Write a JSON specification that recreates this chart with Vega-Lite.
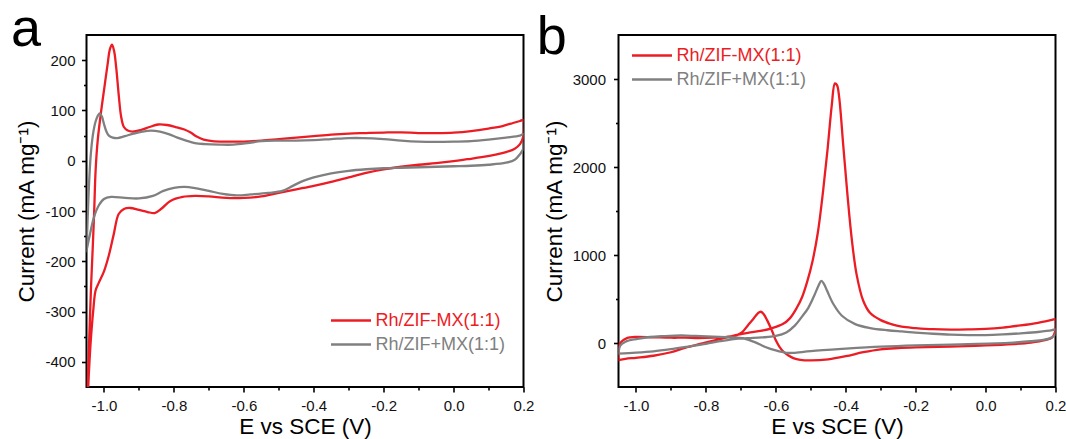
{
  "$schema": "https://vega.github.io/schema/vega-lite/v6.json",
  "autosize": {"type": "pad"},
  "padding": {"left": 9.5, "top": 2, "right": 5, "bottom": 0},
  "background": "white",
  "spacing": 95,
  "bounds": "flush",
  "resolve": {"legend": {"color": "independent"}},
  "config": {
    "font": "Liberation Sans",
    "view": {"stroke": "#000", "strokeWidth": 2},
    "axis": {
      "domain": false, "grid": false,
      "tickColor": "#000", "tickWidth": 1.6,
      "labelFont": "Liberation Sans", "labelFontSize": 15, "labelColor": "#111",
      "titleFont": "Liberation Sans", "titleFontSize": 22.5, "titleFontWeight": "normal", "titleColor": "#000"
    },
    "title": {"font": "Liberation Sans", "fontSize": 54, "fontWeight": "normal", "anchor": "start", "frame": "bounds", "baseline": "alphabetic", "color": "#000"},
    "legend": {"labelFont": "Liberation Sans", "labelFontSize": 18}
  },
  "hconcat": [
    {
      "width": 437, "height": 352,
      "title": {"text": "a", "dx": -5, "offset": -22},
      "data": {"values": [
        {"series":"Rh/ZIF-MX(1:1)","idx":1,"E":-1.047,"I":-450},
        {"series":"Rh/ZIF-MX(1:1)","idx":2,"E":-1.042,"I":-350},
        {"series":"Rh/ZIF-MX(1:1)","idx":3,"E":-1.037,"I":-250},
        {"series":"Rh/ZIF-MX(1:1)","idx":4,"E":-1.032,"I":-170},
        {"series":"Rh/ZIF-MX(1:1)","idx":5,"E":-1.028,"I":-100},
        {"series":"Rh/ZIF-MX(1:1)","idx":6,"E":-1.024,"I":-20},
        {"series":"Rh/ZIF-MX(1:1)","idx":7,"E":-1.018,"I":40},
        {"series":"Rh/ZIF-MX(1:1)","idx":8,"E":-1.008,"I":99},
        {"series":"Rh/ZIF-MX(1:1)","idx":9,"E":-0.999,"I":145},
        {"series":"Rh/ZIF-MX(1:1)","idx":10,"E":-0.99,"I":190},
        {"series":"Rh/ZIF-MX(1:1)","idx":11,"E":-0.983,"I":222},
        {"series":"Rh/ZIF-MX(1:1)","idx":12,"E":-0.977,"I":231},
        {"series":"Rh/ZIF-MX(1:1)","idx":13,"E":-0.971,"I":218},
        {"series":"Rh/ZIF-MX(1:1)","idx":14,"E":-0.965,"I":185},
        {"series":"Rh/ZIF-MX(1:1)","idx":15,"E":-0.958,"I":132},
        {"series":"Rh/ZIF-MX(1:1)","idx":16,"E":-0.951,"I":88},
        {"series":"Rh/ZIF-MX(1:1)","idx":17,"E":-0.943,"I":67},
        {"series":"Rh/ZIF-MX(1:1)","idx":18,"E":-0.932,"I":60},
        {"series":"Rh/ZIF-MX(1:1)","idx":19,"E":-0.918,"I":58},
        {"series":"Rh/ZIF-MX(1:1)","idx":20,"E":-0.895,"I":61},
        {"series":"Rh/ZIF-MX(1:1)","idx":21,"E":-0.87,"I":67},
        {"series":"Rh/ZIF-MX(1:1)","idx":22,"E":-0.845,"I":72},
        {"series":"Rh/ZIF-MX(1:1)","idx":23,"E":-0.82,"I":71},
        {"series":"Rh/ZIF-MX(1:1)","idx":24,"E":-0.795,"I":67},
        {"series":"Rh/ZIF-MX(1:1)","idx":25,"E":-0.77,"I":62},
        {"series":"Rh/ZIF-MX(1:1)","idx":26,"E":-0.752,"I":56},
        {"series":"Rh/ZIF-MX(1:1)","idx":27,"E":-0.735,"I":48},
        {"series":"Rh/ZIF-MX(1:1)","idx":28,"E":-0.715,"I":42},
        {"series":"Rh/ZIF-MX(1:1)","idx":29,"E":-0.69,"I":39},
        {"series":"Rh/ZIF-MX(1:1)","idx":30,"E":-0.65,"I":38},
        {"series":"Rh/ZIF-MX(1:1)","idx":31,"E":-0.6,"I":38},
        {"series":"Rh/ZIF-MX(1:1)","idx":32,"E":-0.55,"I":40},
        {"series":"Rh/ZIF-MX(1:1)","idx":33,"E":-0.5,"I":43},
        {"series":"Rh/ZIF-MX(1:1)","idx":34,"E":-0.45,"I":46},
        {"series":"Rh/ZIF-MX(1:1)","idx":35,"E":-0.4,"I":49},
        {"series":"Rh/ZIF-MX(1:1)","idx":36,"E":-0.35,"I":52},
        {"series":"Rh/ZIF-MX(1:1)","idx":37,"E":-0.3,"I":54},
        {"series":"Rh/ZIF-MX(1:1)","idx":38,"E":-0.25,"I":55},
        {"series":"Rh/ZIF-MX(1:1)","idx":39,"E":-0.2,"I":56},
        {"series":"Rh/ZIF-MX(1:1)","idx":40,"E":-0.15,"I":56.5},
        {"series":"Rh/ZIF-MX(1:1)","idx":41,"E":-0.1,"I":55},
        {"series":"Rh/ZIF-MX(1:1)","idx":42,"E":-0.05,"I":55},
        {"series":"Rh/ZIF-MX(1:1)","idx":43,"E":0.0,"I":56},
        {"series":"Rh/ZIF-MX(1:1)","idx":44,"E":0.05,"I":59},
        {"series":"Rh/ZIF-MX(1:1)","idx":45,"E":0.1,"I":64},
        {"series":"Rh/ZIF-MX(1:1)","idx":46,"E":0.14,"I":69},
        {"series":"Rh/ZIF-MX(1:1)","idx":47,"E":0.17,"I":75},
        {"series":"Rh/ZIF-MX(1:1)","idx":48,"E":0.19,"I":79},
        {"series":"Rh/ZIF-MX(1:1)","idx":49,"E":0.2,"I":81},
        {"series":"Rh/ZIF-MX(1:1)","idx":50,"E":0.2,"I":50},
        {"series":"Rh/ZIF-MX(1:1)","idx":51,"E":0.19,"I":33},
        {"series":"Rh/ZIF-MX(1:1)","idx":52,"E":0.175,"I":24},
        {"series":"Rh/ZIF-MX(1:1)","idx":53,"E":0.15,"I":17},
        {"series":"Rh/ZIF-MX(1:1)","idx":54,"E":0.12,"I":12},
        {"series":"Rh/ZIF-MX(1:1)","idx":55,"E":0.08,"I":7},
        {"series":"Rh/ZIF-MX(1:1)","idx":56,"E":0.04,"I":3},
        {"series":"Rh/ZIF-MX(1:1)","idx":57,"E":0.0,"I":-1},
        {"series":"Rh/ZIF-MX(1:1)","idx":58,"E":-0.05,"I":-5},
        {"series":"Rh/ZIF-MX(1:1)","idx":59,"E":-0.1,"I":-8},
        {"series":"Rh/ZIF-MX(1:1)","idx":60,"E":-0.15,"I":-12},
        {"series":"Rh/ZIF-MX(1:1)","idx":61,"E":-0.2,"I":-17},
        {"series":"Rh/ZIF-MX(1:1)","idx":62,"E":-0.25,"I":-24},
        {"series":"Rh/ZIF-MX(1:1)","idx":63,"E":-0.3,"I":-33},
        {"series":"Rh/ZIF-MX(1:1)","idx":64,"E":-0.35,"I":-42},
        {"series":"Rh/ZIF-MX(1:1)","idx":65,"E":-0.4,"I":-50},
        {"series":"Rh/ZIF-MX(1:1)","idx":66,"E":-0.45,"I":-57},
        {"series":"Rh/ZIF-MX(1:1)","idx":67,"E":-0.5,"I":-64},
        {"series":"Rh/ZIF-MX(1:1)","idx":68,"E":-0.55,"I":-71},
        {"series":"Rh/ZIF-MX(1:1)","idx":69,"E":-0.6,"I":-74},
        {"series":"Rh/ZIF-MX(1:1)","idx":70,"E":-0.65,"I":-74},
        {"series":"Rh/ZIF-MX(1:1)","idx":71,"E":-0.7,"I":-71},
        {"series":"Rh/ZIF-MX(1:1)","idx":72,"E":-0.74,"I":-70},
        {"series":"Rh/ZIF-MX(1:1)","idx":73,"E":-0.775,"I":-72},
        {"series":"Rh/ZIF-MX(1:1)","idx":74,"E":-0.81,"I":-80},
        {"series":"Rh/ZIF-MX(1:1)","idx":75,"E":-0.835,"I":-95},
        {"series":"Rh/ZIF-MX(1:1)","idx":76,"E":-0.855,"I":-104},
        {"series":"Rh/ZIF-MX(1:1)","idx":77,"E":-0.875,"I":-102},
        {"series":"Rh/ZIF-MX(1:1)","idx":78,"E":-0.9,"I":-98},
        {"series":"Rh/ZIF-MX(1:1)","idx":79,"E":-0.925,"I":-94},
        {"series":"Rh/ZIF-MX(1:1)","idx":80,"E":-0.943,"I":-96},
        {"series":"Rh/ZIF-MX(1:1)","idx":81,"E":-0.958,"I":-106},
        {"series":"Rh/ZIF-MX(1:1)","idx":82,"E":-0.972,"I":-146},
        {"series":"Rh/ZIF-MX(1:1)","idx":83,"E":-0.986,"I":-188},
        {"series":"Rh/ZIF-MX(1:1)","idx":84,"E":-1.0,"I":-220},
        {"series":"Rh/ZIF-MX(1:1)","idx":85,"E":-1.015,"I":-243},
        {"series":"Rh/ZIF-MX(1:1)","idx":86,"E":-1.024,"I":-258},
        {"series":"Rh/ZIF-MX(1:1)","idx":87,"E":-1.031,"I":-300},
        {"series":"Rh/ZIF-MX(1:1)","idx":88,"E":-1.038,"I":-360},
        {"series":"Rh/ZIF-MX(1:1)","idx":89,"E":-1.043,"I":-420},
        {"series":"Rh/ZIF-MX(1:1)","idx":90,"E":-1.045,"I":-450},
        {"series":"Rh/ZIF+MX(1:1)","idx":1,"E":-1.05,"I":-180},
        {"series":"Rh/ZIF+MX(1:1)","idx":2,"E":-1.047,"I":-120},
        {"series":"Rh/ZIF+MX(1:1)","idx":3,"E":-1.043,"I":-50},
        {"series":"Rh/ZIF+MX(1:1)","idx":4,"E":-1.038,"I":10},
        {"series":"Rh/ZIF+MX(1:1)","idx":5,"E":-1.032,"I":50},
        {"series":"Rh/ZIF+MX(1:1)","idx":6,"E":-1.024,"I":78},
        {"series":"Rh/ZIF+MX(1:1)","idx":7,"E":-1.017,"I":90},
        {"series":"Rh/ZIF+MX(1:1)","idx":8,"E":-1.012,"I":94},
        {"series":"Rh/ZIF+MX(1:1)","idx":9,"E":-1.006,"I":88},
        {"series":"Rh/ZIF+MX(1:1)","idx":10,"E":-1.0,"I":73},
        {"series":"Rh/ZIF+MX(1:1)","idx":11,"E":-0.993,"I":58},
        {"series":"Rh/ZIF+MX(1:1)","idx":12,"E":-0.986,"I":50},
        {"series":"Rh/ZIF+MX(1:1)","idx":13,"E":-0.975,"I":46},
        {"series":"Rh/ZIF+MX(1:1)","idx":14,"E":-0.962,"I":45},
        {"series":"Rh/ZIF+MX(1:1)","idx":15,"E":-0.94,"I":49},
        {"series":"Rh/ZIF+MX(1:1)","idx":16,"E":-0.915,"I":54},
        {"series":"Rh/ZIF+MX(1:1)","idx":17,"E":-0.89,"I":58},
        {"series":"Rh/ZIF+MX(1:1)","idx":18,"E":-0.865,"I":60},
        {"series":"Rh/ZIF+MX(1:1)","idx":19,"E":-0.84,"I":58},
        {"series":"Rh/ZIF+MX(1:1)","idx":20,"E":-0.815,"I":53},
        {"series":"Rh/ZIF+MX(1:1)","idx":21,"E":-0.79,"I":46},
        {"series":"Rh/ZIF+MX(1:1)","idx":22,"E":-0.765,"I":40},
        {"series":"Rh/ZIF+MX(1:1)","idx":23,"E":-0.74,"I":35},
        {"series":"Rh/ZIF+MX(1:1)","idx":24,"E":-0.71,"I":33},
        {"series":"Rh/ZIF+MX(1:1)","idx":25,"E":-0.67,"I":32},
        {"series":"Rh/ZIF+MX(1:1)","idx":26,"E":-0.63,"I":32},
        {"series":"Rh/ZIF+MX(1:1)","idx":27,"E":-0.59,"I":35},
        {"series":"Rh/ZIF+MX(1:1)","idx":28,"E":-0.55,"I":39},
        {"series":"Rh/ZIF+MX(1:1)","idx":29,"E":-0.5,"I":40},
        {"series":"Rh/ZIF+MX(1:1)","idx":30,"E":-0.45,"I":40},
        {"series":"Rh/ZIF+MX(1:1)","idx":31,"E":-0.4,"I":41},
        {"series":"Rh/ZIF+MX(1:1)","idx":32,"E":-0.35,"I":43},
        {"series":"Rh/ZIF+MX(1:1)","idx":33,"E":-0.3,"I":45},
        {"series":"Rh/ZIF+MX(1:1)","idx":34,"E":-0.26,"I":45},
        {"series":"Rh/ZIF+MX(1:1)","idx":35,"E":-0.2,"I":43},
        {"series":"Rh/ZIF+MX(1:1)","idx":36,"E":-0.15,"I":40},
        {"series":"Rh/ZIF+MX(1:1)","idx":37,"E":-0.1,"I":38},
        {"series":"Rh/ZIF+MX(1:1)","idx":38,"E":-0.05,"I":37.5},
        {"series":"Rh/ZIF+MX(1:1)","idx":39,"E":0.0,"I":38},
        {"series":"Rh/ZIF+MX(1:1)","idx":40,"E":0.05,"I":39},
        {"series":"Rh/ZIF+MX(1:1)","idx":41,"E":0.1,"I":42},
        {"series":"Rh/ZIF+MX(1:1)","idx":42,"E":0.15,"I":46},
        {"series":"Rh/ZIF+MX(1:1)","idx":43,"E":0.19,"I":50},
        {"series":"Rh/ZIF+MX(1:1)","idx":44,"E":0.2,"I":53},
        {"series":"Rh/ZIF+MX(1:1)","idx":45,"E":0.2,"I":25},
        {"series":"Rh/ZIF+MX(1:1)","idx":46,"E":0.19,"I":13},
        {"series":"Rh/ZIF+MX(1:1)","idx":47,"E":0.175,"I":2},
        {"series":"Rh/ZIF+MX(1:1)","idx":48,"E":0.15,"I":-4},
        {"series":"Rh/ZIF+MX(1:1)","idx":49,"E":0.1,"I":-8},
        {"series":"Rh/ZIF+MX(1:1)","idx":50,"E":0.05,"I":-10},
        {"series":"Rh/ZIF+MX(1:1)","idx":51,"E":0.0,"I":-11},
        {"series":"Rh/ZIF+MX(1:1)","idx":52,"E":-0.05,"I":-12},
        {"series":"Rh/ZIF+MX(1:1)","idx":53,"E":-0.1,"I":-13},
        {"series":"Rh/ZIF+MX(1:1)","idx":54,"E":-0.15,"I":-14},
        {"series":"Rh/ZIF+MX(1:1)","idx":55,"E":-0.2,"I":-15},
        {"series":"Rh/ZIF+MX(1:1)","idx":56,"E":-0.25,"I":-17},
        {"series":"Rh/ZIF+MX(1:1)","idx":57,"E":-0.3,"I":-20},
        {"series":"Rh/ZIF+MX(1:1)","idx":58,"E":-0.35,"I":-25},
        {"series":"Rh/ZIF+MX(1:1)","idx":59,"E":-0.4,"I":-33},
        {"series":"Rh/ZIF+MX(1:1)","idx":60,"E":-0.43,"I":-40},
        {"series":"Rh/ZIF+MX(1:1)","idx":61,"E":-0.46,"I":-50},
        {"series":"Rh/ZIF+MX(1:1)","idx":62,"E":-0.49,"I":-60},
        {"series":"Rh/ZIF+MX(1:1)","idx":63,"E":-0.53,"I":-64},
        {"series":"Rh/ZIF+MX(1:1)","idx":64,"E":-0.58,"I":-67},
        {"series":"Rh/ZIF+MX(1:1)","idx":65,"E":-0.62,"I":-69},
        {"series":"Rh/ZIF+MX(1:1)","idx":66,"E":-0.66,"I":-66},
        {"series":"Rh/ZIF+MX(1:1)","idx":67,"E":-0.7,"I":-60},
        {"series":"Rh/ZIF+MX(1:1)","idx":68,"E":-0.735,"I":-55},
        {"series":"Rh/ZIF+MX(1:1)","idx":69,"E":-0.77,"I":-52},
        {"series":"Rh/ZIF+MX(1:1)","idx":70,"E":-0.8,"I":-54},
        {"series":"Rh/ZIF+MX(1:1)","idx":71,"E":-0.83,"I":-60},
        {"series":"Rh/ZIF+MX(1:1)","idx":72,"E":-0.86,"I":-70},
        {"series":"Rh/ZIF+MX(1:1)","idx":73,"E":-0.9,"I":-75},
        {"series":"Rh/ZIF+MX(1:1)","idx":74,"E":-0.94,"I":-74},
        {"series":"Rh/ZIF+MX(1:1)","idx":75,"E":-0.98,"I":-72},
        {"series":"Rh/ZIF+MX(1:1)","idx":76,"E":-1.0,"I":-76},
        {"series":"Rh/ZIF+MX(1:1)","idx":77,"E":-1.015,"I":-89},
        {"series":"Rh/ZIF+MX(1:1)","idx":78,"E":-1.029,"I":-113},
        {"series":"Rh/ZIF+MX(1:1)","idx":79,"E":-1.04,"I":-146},
        {"series":"Rh/ZIF+MX(1:1)","idx":80,"E":-1.048,"I":-172},
        {"series":"Rh/ZIF+MX(1:1)","idx":81,"E":-1.05,"I":-180}
      ]},
      "mark": {"type": "line", "interpolate": "catmull-rom", "strokeWidth": 2.3, "clip": true, "strokeJoin": "round", "strokeCap": "round"},
      "encoding": {
        "x": {"field": "E", "type": "quantitative", "scale": {"domain": [-1.05, 0.2], "nice": false, "zero": false},
          "axis": {"title": "E vs SCE (V)", "values": [-1.0,-0.9,-0.8,-0.7,-0.6,-0.5,-0.4,-0.3,-0.2,-0.1,0.0,0.1,0.2],
            "labelExpr": "round(datum.value*10) % 2 == 0 ? replace(format(datum.value, '.1f'), '\u2212', '-') : ''",
            "tickSize": {"condition": {"test": "round(datum.value*10) % 2 == 0", "value": 5}, "value": 3},
            "labelPadding": 6, "titlePadding": 2, "labelFlush": false, "labelOverlap": false}},
        "y": {"field": "I", "type": "quantitative", "scale": {"domain": [-450, 250], "nice": false, "zero": false},
          "axis": {"title": "Current (mA mg\u207b\u00b9)", "values": [-400,-350,-300,-250,-200,-150,-100,-50,0,50,100,150,200],
            "labelExpr": "datum.value % 100 == 0 ? '' + datum.value : ''",
            "tickSize": {"condition": {"test": "datum.value % 100 == 0", "value": 5}, "value": 3},
            "labelPadding": 6.5, "titlePadding": 6, "labelOverlap": false}},
        "color": {"field": "series", "type": "nominal",
          "scale": {"domain": ["Rh/ZIF-MX(1:1)", "Rh/ZIF+MX(1:1)"], "range": ["#ec1c24", "#808080"]},
          "legend": {"orient": "none", "legendX": 253, "legendY": 274, "title": null, "padding": 0,
            "symbolType": "M-2,0H2", "symbolSize": 400, "symbolStrokeWidth": 2.5,
            "labelFontSize": 18, "labelOffset": 13, "rowPadding": 3,
            "encode": {"labels": {"update": {"fill": {"signal": "datum.label == 'Rh/ZIF-MX(1:1)' ? '#ec1c24' : '#808080'"}}}}}},
        "order": {"field": "idx", "type": "quantitative"}
      }
    },
    {
      "width": 437, "height": 352,
      "title": {"text": "b", "dx": -6.5, "offset": -30},
      "data": {"values": [
        {"series":"Rh/ZIF-MX(1:1)","idx":1,"E":-1.05,"I":-195},
        {"series":"Rh/ZIF-MX(1:1)","idx":2,"E":-1.03,"I":-180},
        {"series":"Rh/ZIF-MX(1:1)","idx":3,"E":-1.0,"I":-168},
        {"series":"Rh/ZIF-MX(1:1)","idx":4,"E":-0.95,"I":-145},
        {"series":"Rh/ZIF-MX(1:1)","idx":5,"E":-0.9,"I":-105},
        {"series":"Rh/ZIF-MX(1:1)","idx":6,"E":-0.86,"I":-55},
        {"series":"Rh/ZIF-MX(1:1)","idx":7,"E":-0.81,"I":-5},
        {"series":"Rh/ZIF-MX(1:1)","idx":8,"E":-0.76,"I":45},
        {"series":"Rh/ZIF-MX(1:1)","idx":9,"E":-0.72,"I":85},
        {"series":"Rh/ZIF-MX(1:1)","idx":10,"E":-0.68,"I":115},
        {"series":"Rh/ZIF-MX(1:1)","idx":11,"E":-0.64,"I":140},
        {"series":"Rh/ZIF-MX(1:1)","idx":12,"E":-0.61,"I":170},
        {"series":"Rh/ZIF-MX(1:1)","idx":13,"E":-0.58,"I":215},
        {"series":"Rh/ZIF-MX(1:1)","idx":14,"E":-0.56,"I":280},
        {"series":"Rh/ZIF-MX(1:1)","idx":15,"E":-0.54,"I":400},
        {"series":"Rh/ZIF-MX(1:1)","idx":16,"E":-0.525,"I":520},
        {"series":"Rh/ZIF-MX(1:1)","idx":17,"E":-0.51,"I":700},
        {"series":"Rh/ZIF-MX(1:1)","idx":18,"E":-0.495,"I":930},
        {"series":"Rh/ZIF-MX(1:1)","idx":19,"E":-0.48,"I":1250},
        {"series":"Rh/ZIF-MX(1:1)","idx":20,"E":-0.465,"I":1720},
        {"series":"Rh/ZIF-MX(1:1)","idx":21,"E":-0.452,"I":2200},
        {"series":"Rh/ZIF-MX(1:1)","idx":22,"E":-0.44,"I":2700},
        {"series":"Rh/ZIF-MX(1:1)","idx":23,"E":-0.431,"I":2950},
        {"series":"Rh/ZIF-MX(1:1)","idx":24,"E":-0.425,"I":2930},
        {"series":"Rh/ZIF-MX(1:1)","idx":25,"E":-0.419,"I":2800},
        {"series":"Rh/ZIF-MX(1:1)","idx":26,"E":-0.407,"I":2240},
        {"series":"Rh/ZIF-MX(1:1)","idx":27,"E":-0.395,"I":1680},
        {"series":"Rh/ZIF-MX(1:1)","idx":28,"E":-0.383,"I":1190},
        {"series":"Rh/ZIF-MX(1:1)","idx":29,"E":-0.369,"I":780},
        {"series":"Rh/ZIF-MX(1:1)","idx":30,"E":-0.35,"I":480},
        {"series":"Rh/ZIF-MX(1:1)","idx":31,"E":-0.33,"I":340},
        {"series":"Rh/ZIF-MX(1:1)","idx":32,"E":-0.3,"I":260},
        {"series":"Rh/ZIF-MX(1:1)","idx":33,"E":-0.27,"I":215},
        {"series":"Rh/ZIF-MX(1:1)","idx":34,"E":-0.24,"I":185},
        {"series":"Rh/ZIF-MX(1:1)","idx":35,"E":-0.2,"I":170},
        {"series":"Rh/ZIF-MX(1:1)","idx":36,"E":-0.15,"I":157},
        {"series":"Rh/ZIF-MX(1:1)","idx":37,"E":-0.1,"I":153},
        {"series":"Rh/ZIF-MX(1:1)","idx":38,"E":-0.05,"I":155},
        {"series":"Rh/ZIF-MX(1:1)","idx":39,"E":0.0,"I":160},
        {"series":"Rh/ZIF-MX(1:1)","idx":40,"E":0.05,"I":175},
        {"series":"Rh/ZIF-MX(1:1)","idx":41,"E":0.1,"I":200},
        {"series":"Rh/ZIF-MX(1:1)","idx":42,"E":0.15,"I":230},
        {"series":"Rh/ZIF-MX(1:1)","idx":43,"E":0.19,"I":262},
        {"series":"Rh/ZIF-MX(1:1)","idx":44,"E":0.2,"I":270},
        {"series":"Rh/ZIF-MX(1:1)","idx":45,"E":0.2,"I":150},
        {"series":"Rh/ZIF-MX(1:1)","idx":46,"E":0.19,"I":60},
        {"series":"Rh/ZIF-MX(1:1)","idx":47,"E":0.17,"I":32},
        {"series":"Rh/ZIF-MX(1:1)","idx":48,"E":0.13,"I":5},
        {"series":"Rh/ZIF-MX(1:1)","idx":49,"E":0.08,"I":-12},
        {"series":"Rh/ZIF-MX(1:1)","idx":50,"E":0.0,"I":-28},
        {"series":"Rh/ZIF-MX(1:1)","idx":51,"E":-0.1,"I":-40},
        {"series":"Rh/ZIF-MX(1:1)","idx":52,"E":-0.2,"I":-50},
        {"series":"Rh/ZIF-MX(1:1)","idx":53,"E":-0.25,"I":-58},
        {"series":"Rh/ZIF-MX(1:1)","idx":54,"E":-0.3,"I":-72},
        {"series":"Rh/ZIF-MX(1:1)","idx":55,"E":-0.35,"I":-105},
        {"series":"Rh/ZIF-MX(1:1)","idx":56,"E":-0.4,"I":-150},
        {"series":"Rh/ZIF-MX(1:1)","idx":57,"E":-0.45,"I":-185},
        {"series":"Rh/ZIF-MX(1:1)","idx":58,"E":-0.5,"I":-198},
        {"series":"Rh/ZIF-MX(1:1)","idx":59,"E":-0.53,"I":-192},
        {"series":"Rh/ZIF-MX(1:1)","idx":60,"E":-0.55,"I":-172},
        {"series":"Rh/ZIF-MX(1:1)","idx":61,"E":-0.565,"I":-140},
        {"series":"Rh/ZIF-MX(1:1)","idx":62,"E":-0.578,"I":-100},
        {"series":"Rh/ZIF-MX(1:1)","idx":63,"E":-0.59,"I":-40},
        {"series":"Rh/ZIF-MX(1:1)","idx":64,"E":-0.6,"I":30},
        {"series":"Rh/ZIF-MX(1:1)","idx":65,"E":-0.611,"I":140},
        {"series":"Rh/ZIF-MX(1:1)","idx":66,"E":-0.625,"I":260},
        {"series":"Rh/ZIF-MX(1:1)","idx":67,"E":-0.635,"I":330},
        {"series":"Rh/ZIF-MX(1:1)","idx":68,"E":-0.643,"I":355},
        {"series":"Rh/ZIF-MX(1:1)","idx":69,"E":-0.652,"I":335},
        {"series":"Rh/ZIF-MX(1:1)","idx":70,"E":-0.665,"I":270},
        {"series":"Rh/ZIF-MX(1:1)","idx":71,"E":-0.68,"I":200},
        {"series":"Rh/ZIF-MX(1:1)","idx":72,"E":-0.697,"I":120},
        {"series":"Rh/ZIF-MX(1:1)","idx":73,"E":-0.711,"I":90},
        {"series":"Rh/ZIF-MX(1:1)","idx":74,"E":-0.74,"I":70},
        {"series":"Rh/ZIF-MX(1:1)","idx":75,"E":-0.78,"I":60},
        {"series":"Rh/ZIF-MX(1:1)","idx":76,"E":-0.82,"I":56},
        {"series":"Rh/ZIF-MX(1:1)","idx":77,"E":-0.86,"I":60},
        {"series":"Rh/ZIF-MX(1:1)","idx":78,"E":-0.9,"I":60},
        {"series":"Rh/ZIF-MX(1:1)","idx":79,"E":-0.95,"I":65},
        {"series":"Rh/ZIF-MX(1:1)","idx":80,"E":-1.0,"I":70},
        {"series":"Rh/ZIF-MX(1:1)","idx":81,"E":-1.026,"I":56},
        {"series":"Rh/ZIF-MX(1:1)","idx":82,"E":-1.042,"I":15},
        {"series":"Rh/ZIF-MX(1:1)","idx":83,"E":-1.05,"I":-40},
        {"series":"Rh/ZIF-MX(1:1)","idx":84,"E":-1.05,"I":-195},
        {"series":"Rh/ZIF+MX(1:1)","idx":1,"E":-1.05,"I":-120},
        {"series":"Rh/ZIF+MX(1:1)","idx":2,"E":-1.0,"I":-110},
        {"series":"Rh/ZIF+MX(1:1)","idx":3,"E":-0.95,"I":-95},
        {"series":"Rh/ZIF+MX(1:1)","idx":4,"E":-0.9,"I":-70},
        {"series":"Rh/ZIF+MX(1:1)","idx":5,"E":-0.85,"I":-40},
        {"series":"Rh/ZIF+MX(1:1)","idx":6,"E":-0.8,"I":-10},
        {"series":"Rh/ZIF+MX(1:1)","idx":7,"E":-0.76,"I":20},
        {"series":"Rh/ZIF+MX(1:1)","idx":8,"E":-0.72,"I":45},
        {"series":"Rh/ZIF+MX(1:1)","idx":9,"E":-0.68,"I":55},
        {"series":"Rh/ZIF+MX(1:1)","idx":10,"E":-0.64,"I":63},
        {"series":"Rh/ZIF+MX(1:1)","idx":11,"E":-0.6,"I":80},
        {"series":"Rh/ZIF+MX(1:1)","idx":12,"E":-0.57,"I":120},
        {"series":"Rh/ZIF+MX(1:1)","idx":13,"E":-0.545,"I":200},
        {"series":"Rh/ZIF+MX(1:1)","idx":14,"E":-0.525,"I":300},
        {"series":"Rh/ZIF+MX(1:1)","idx":15,"E":-0.507,"I":400},
        {"series":"Rh/ZIF+MX(1:1)","idx":16,"E":-0.49,"I":540},
        {"series":"Rh/ZIF+MX(1:1)","idx":17,"E":-0.478,"I":650},
        {"series":"Rh/ZIF+MX(1:1)","idx":18,"E":-0.47,"I":705},
        {"series":"Rh/ZIF+MX(1:1)","idx":19,"E":-0.462,"I":670},
        {"series":"Rh/ZIF+MX(1:1)","idx":20,"E":-0.453,"I":590},
        {"series":"Rh/ZIF+MX(1:1)","idx":21,"E":-0.435,"I":440},
        {"series":"Rh/ZIF+MX(1:1)","idx":22,"E":-0.411,"I":310},
        {"series":"Rh/ZIF+MX(1:1)","idx":23,"E":-0.373,"I":215},
        {"series":"Rh/ZIF+MX(1:1)","idx":24,"E":-0.33,"I":170},
        {"series":"Rh/ZIF+MX(1:1)","idx":25,"E":-0.28,"I":145},
        {"series":"Rh/ZIF+MX(1:1)","idx":26,"E":-0.24,"I":131},
        {"series":"Rh/ZIF+MX(1:1)","idx":27,"E":-0.2,"I":118},
        {"series":"Rh/ZIF+MX(1:1)","idx":28,"E":-0.15,"I":105},
        {"series":"Rh/ZIF+MX(1:1)","idx":29,"E":-0.1,"I":95},
        {"series":"Rh/ZIF+MX(1:1)","idx":30,"E":-0.05,"I":90},
        {"series":"Rh/ZIF+MX(1:1)","idx":31,"E":0.0,"I":90},
        {"series":"Rh/ZIF+MX(1:1)","idx":32,"E":0.05,"I":98},
        {"series":"Rh/ZIF+MX(1:1)","idx":33,"E":0.1,"I":110},
        {"series":"Rh/ZIF+MX(1:1)","idx":34,"E":0.15,"I":125},
        {"series":"Rh/ZIF+MX(1:1)","idx":35,"E":0.19,"I":145},
        {"series":"Rh/ZIF+MX(1:1)","idx":36,"E":0.2,"I":155},
        {"series":"Rh/ZIF+MX(1:1)","idx":37,"E":0.2,"I":100},
        {"series":"Rh/ZIF+MX(1:1)","idx":38,"E":0.185,"I":55},
        {"series":"Rh/ZIF+MX(1:1)","idx":39,"E":0.165,"I":35},
        {"series":"Rh/ZIF+MX(1:1)","idx":40,"E":0.13,"I":20},
        {"series":"Rh/ZIF+MX(1:1)","idx":41,"E":0.08,"I":5},
        {"series":"Rh/ZIF+MX(1:1)","idx":42,"E":0.03,"I":-5},
        {"series":"Rh/ZIF+MX(1:1)","idx":43,"E":-0.05,"I":-13},
        {"series":"Rh/ZIF+MX(1:1)","idx":44,"E":-0.1,"I":-18},
        {"series":"Rh/ZIF+MX(1:1)","idx":45,"E":-0.2,"I":-27},
        {"series":"Rh/ZIF+MX(1:1)","idx":46,"E":-0.3,"I":-42},
        {"series":"Rh/ZIF+MX(1:1)","idx":47,"E":-0.4,"I":-65},
        {"series":"Rh/ZIF+MX(1:1)","idx":48,"E":-0.5,"I":-92},
        {"series":"Rh/ZIF+MX(1:1)","idx":49,"E":-0.55,"I":-112},
        {"series":"Rh/ZIF+MX(1:1)","idx":50,"E":-0.57,"I":-112},
        {"series":"Rh/ZIF+MX(1:1)","idx":51,"E":-0.6,"I":-85},
        {"series":"Rh/ZIF+MX(1:1)","idx":52,"E":-0.63,"I":-45},
        {"series":"Rh/ZIF+MX(1:1)","idx":53,"E":-0.66,"I":10},
        {"series":"Rh/ZIF+MX(1:1)","idx":54,"E":-0.69,"I":50},
        {"series":"Rh/ZIF+MX(1:1)","idx":55,"E":-0.73,"I":65},
        {"series":"Rh/ZIF+MX(1:1)","idx":56,"E":-0.78,"I":72},
        {"series":"Rh/ZIF+MX(1:1)","idx":57,"E":-0.83,"I":80},
        {"series":"Rh/ZIF+MX(1:1)","idx":58,"E":-0.87,"I":85},
        {"series":"Rh/ZIF+MX(1:1)","idx":59,"E":-0.92,"I":78},
        {"series":"Rh/ZIF+MX(1:1)","idx":60,"E":-0.96,"I":68},
        {"series":"Rh/ZIF+MX(1:1)","idx":61,"E":-1.0,"I":45},
        {"series":"Rh/ZIF+MX(1:1)","idx":62,"E":-1.03,"I":15},
        {"series":"Rh/ZIF+MX(1:1)","idx":63,"E":-1.045,"I":-30},
        {"series":"Rh/ZIF+MX(1:1)","idx":64,"E":-1.05,"I":-120}
      ]},
      "mark": {"type": "line", "interpolate": "catmull-rom", "strokeWidth": 2.3, "clip": true, "strokeJoin": "round", "strokeCap": "round"},
      "encoding": {
        "x": {"field": "E", "type": "quantitative", "scale": {"domain": [-1.05, 0.2], "nice": false, "zero": false},
          "axis": {"title": "E vs SCE (V)", "values": [-1.0,-0.9,-0.8,-0.7,-0.6,-0.5,-0.4,-0.3,-0.2,-0.1,0.0,0.1,0.2],
            "labelExpr": "round(datum.value*10) % 2 == 0 ? replace(format(datum.value, '.1f'), '\u2212', '-') : ''",
            "tickSize": {"condition": {"test": "round(datum.value*10) % 2 == 0", "value": 5}, "value": 3},
            "labelPadding": 6, "titlePadding": 2, "labelFlush": false, "labelOverlap": false}},
        "y": {"field": "I", "type": "quantitative", "scale": {"domain": [-500, 3500], "nice": false, "zero": false},
          "axis": {"title": "Current (mA mg\u207b\u00b9)", "values": [0,500,1000,1500,2000,2500,3000],
            "labelExpr": "datum.value % 1000 == 0 ? '' + datum.value : ''",
            "tickSize": {"condition": {"test": "datum.value % 1000 == 0", "value": 5}, "value": 3},
            "labelPadding": 8, "titlePadding": 6, "labelOverlap": false}},
        "color": {"field": "series", "type": "nominal",
          "scale": {"domain": ["Rh/ZIF-MX(1:1)", "Rh/ZIF+MX(1:1)"], "range": ["#ec1c24", "#808080"]},
          "legend": {"orient": "none", "legendX": 22, "legendY": 9, "title": null, "padding": 0,
            "symbolType": "M-2,0H2", "symbolSize": 400, "symbolStrokeWidth": 2.5,
            "labelFontSize": 18, "labelOffset": 13, "rowPadding": 3,
            "encode": {"labels": {"update": {"fill": {"signal": "datum.label == 'Rh/ZIF-MX(1:1)' ? '#ec1c24' : '#808080'"}}}}}},
        "order": {"field": "idx", "type": "quantitative"}
      }
    }
  ]
}
